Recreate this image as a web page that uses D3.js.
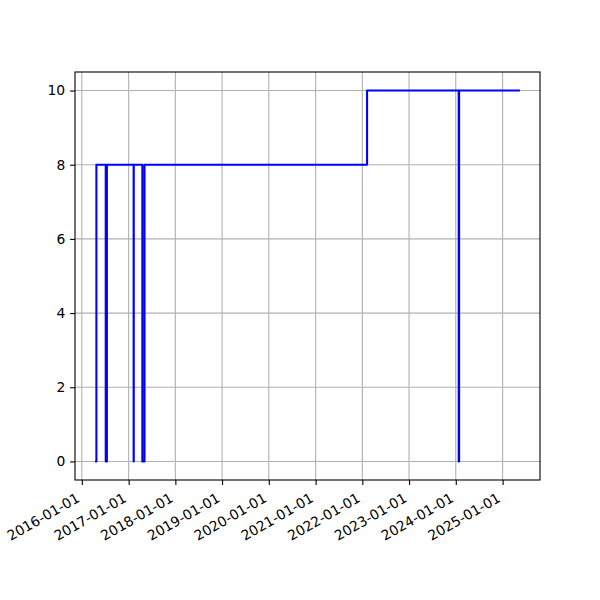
<!DOCTYPE html>
<html>
<head>
<meta charset="utf-8">
<script src="https://cdn.jsdelivr.net/npm/d3@7"></script>
<style>
  html, body { margin: 0; padding: 0; background: #fff; }
  svg { display: block; }
  text { font-family: "DejaVu Sans", sans-serif; fill: #000; }
</style>
</head>
<body>
<div id="chart"></div>
<script>
// ---- data ----
const dates  = ["2016-04-22","2016-04-24","2016-07-06","2016-07-15","2017-02-09","2017-02-10",
                "2017-04-18","2017-05-05","2022-02-07","2024-01-24","2024-01-27","2025-05-08"];
const values = [0, 8, 0, 8, 0, 8, 0, 8, 10, 0, 10, 10];
const yTicks = [0, 2, 4, 6, 8, 10];
const xTickYears = [2016, 2017, 2018, 2019, 2020, 2021, 2022, 2023, 2024, 2025];

(function () {
const W = 600, H = 600;
const mLeft = 75, mRight = 540, mTop = 72, mBottom = 480;
const fontPx = 13.89;

const parse = d3.utcParse("%Y-%m-%d");
const data = dates.map((d, i) => ({ t: parse(d), v: values[i] }));

// matplotlib-like 5% margins
const [t0, t1] = d3.extent(data, d => d.t);
const span = t1 - t0;
const x = d3.scaleUtc()
  .domain([new Date(+t0 - 0.05 * span), new Date(+t1 + 0.05 * span)])
  .range([mLeft, mRight]);
const y = d3.scaleLinear().domain([-0.5, 10.5]).range([mBottom, mTop]);

const svg = d3.select("#chart").append("svg")
  .attr("width", W).attr("height", H);

svg.append("rect").attr("x", 0).attr("y", 0).attr("width", W).attr("height", H).attr("fill", "#fff");

const xTickDates = xTickYears.map(yr => new Date(Date.UTC(yr, 0, 1)));
const fmt = d3.utcFormat("%Y-%m-%d");

// grid
const grid = svg.append("g");
grid.selectAll("line.gx").data(xTickDates).join("line")
  .attr("class", "gx")
  .attr("x1", d => x(d)).attr("x2", d => x(d))
  .attr("y1", mTop).attr("y2", mBottom)
  .attr("stroke", "#b0b0b0").attr("stroke-width", 1.1);
grid.selectAll("line.gy").data(yTicks).join("line")
  .attr("class", "gy")
  .attr("x1", mLeft).attr("x2", mRight)
  .attr("y1", d => y(d)).attr("y2", d => y(d))
  .attr("stroke", "#b0b0b0").attr("stroke-width", 1.1);

// clip
svg.append("clipPath").attr("id", "clip").append("rect")
  .attr("x", mLeft).attr("y", mTop).attr("width", mRight - mLeft).attr("height", mBottom - mTop);

const line = d3.line()
  .x(d => x(d.t)).y(d => y(d.v))
  .curve(d3.curveStepAfter);

svg.append("path").datum(data)
  .attr("clip-path", "url(#clip)")
  .attr("d", line)
  .attr("fill", "none")
  .attr("stroke", "#0000ff")
  .attr("stroke-width", 2.08)
  .attr("stroke-linejoin", "round")
  .attr("stroke-linecap", "square");

// axes via d3 axis
const xAxis = d3.axisBottom(x).tickValues(xTickDates).tickFormat(fmt)
  .tickSizeInner(4.9).tickSizeOuter(0).tickPadding(4.9);
const gx = svg.append("g").attr("transform", `translate(0,${mBottom})`).call(xAxis);
gx.select(".domain").remove();
gx.selectAll(".tick line").attr("stroke", "#000").attr("stroke-width", 1.1);
gx.selectAll(".tick text")
  .attr("font-size", fontPx)
  .attr("font-family", "DejaVu Sans")
  .attr("text-anchor", "end")
  .attr("dy", null)
  .attr("y", 0)
  .attr("x", 0)
  .attr("transform", `translate(0,${4.9 + 4.9 + 16 * Math.cos(Math.PI / 6)}) rotate(-30) translate(0,-3.3)`);

const yAxis = d3.axisLeft(y).tickValues(yTicks).tickFormat(d3.format("d"))
  .tickSizeInner(4.9).tickSizeOuter(0).tickPadding(4.9);
const gy = svg.append("g").attr("transform", `translate(${mLeft},0)`).call(yAxis);
gy.select(".domain").remove();
gy.selectAll(".tick line").attr("stroke", "#000").attr("stroke-width", 1.1);
gy.selectAll(".tick text")
  .attr("font-size", fontPx)
  .attr("font-family", "DejaVu Sans")
  .attr("dy", "0.32em");

// frame
svg.append("rect")
  .attr("x", mLeft).attr("y", mTop)
  .attr("width", mRight - mLeft).attr("height", mBottom - mTop)
  .attr("fill", "none").attr("stroke", "#000").attr("stroke-width", 1.1);
})();
</script>
</body>
</html>
